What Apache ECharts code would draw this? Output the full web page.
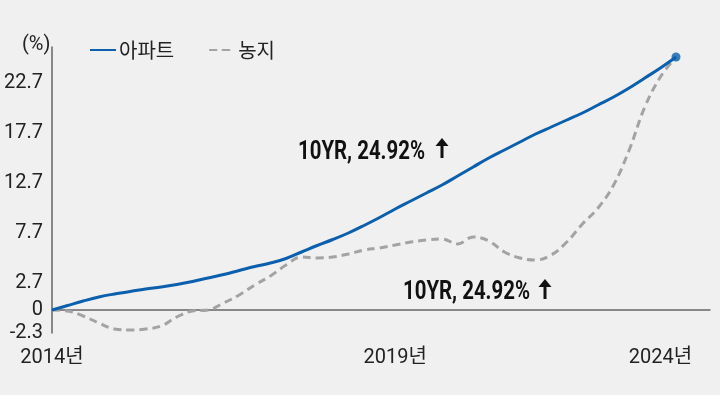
<!DOCTYPE html>
<html><head><meta charset="utf-8">
<script src="https://cdn.jsdelivr.net/npm/echarts@6/dist/echarts.min.js"></script>
<style>html,body{margin:0;padding:0;background:#f0f0f0}#c{width:720px;height:395px}</style>
</head><body><div id="c"></div>
<script>
// Quarterly points, 2014Q1 .. 2024Q1
const quarters = [];
for (let y = 2014; y <= 2024; y++) for (let q = 1; q <= 4; q++) quarters.push(y + 'Q' + q);
quarters.length = 41;

const apartment = [0, 0.45, 0.9, 1.3, 1.6, 1.85, 2.1, 2.3, 2.55, 2.85, 3.2, 3.55, 3.95, 4.35, 4.7, 5.15,
  5.8, 6.45, 7.05, 7.7, 8.45, 9.25, 10.1, 10.9, 11.7, 12.5, 13.4, 14.3, 15.2, 16.0, 16.8, 17.6,
  18.3, 19.0, 19.7, 20.5, 21.3, 22.2, 23.2, 24.2, 25.3];
const farmland = [0, -0.1, -0.6, -1.3, -1.9, -2.0, -1.9, -1.6, -0.7, -0.1, 0.0, 0.7, 1.5, 2.5, 3.4, 4.5,
  5.3, 5.2, 5.3, 5.6, 6.0, 6.2, 6.5, 6.8, 7.0, 7.1, 6.6, 7.3, 6.9, 5.8, 5.2, 5.0,
  5.5, 6.8, 8.6, 10.2, 12.5, 16.0, 20.3, 23.3, 25.3];

const yTicks = [-2.3, 0, 2.7, 7.7, 12.7, 17.7, 22.7];
const xTickIdx = [0, 22, 39];
const xTickLabels = ['2014년', '2019년', '2024년'];
const seriesNames = ['아파트', '농지'];
const annotationText = '10YR, 24.92%';

const FONT = "Roboto,'Noto Sans CJK KR',sans-serif";
const KFONT = "'Noto Sans CJK KR','Noto Sans',sans-serif";
const ANN_FONT = "bold 25px Roboto";

// measure annotation width to condense it to the reference width
const ctx = document.createElement('canvas').getContext('2d');
ctx.font = ANN_FONT;
const annScale = 127 / ctx.measureText(annotationText).width;

const chart = echarts.init(document.getElementById('c'), null, {renderer: 'canvas'});
const toXY = arr => arr.map((v, i) => [i, v]);
const lastIdx = apartment.length - 1;

function arrow(x, y) {
  return {
    type: 'group', x: x, y: y, children: [
      {type: 'rect', shape: {x: -1.5, y: 6, width: 3, height: 14}, style: {fill: '#111'}},
      {type: 'polygon', shape: {points: [[-6.5, 8], [0, 0], [6.5, 8]]}, style: {fill: '#111'}}
    ]
  };
}
function annotation(x, y) {
  return {type: 'text', x: x, y: y, scaleX: annScale, scaleY: 1,
    style: {text: annotationText, font: ANN_FONT, fill: '#111', textVerticalAlign: 'top'}};
}

chart.setOption({
  backgroundColor: '#f0f0f0',
  animation: false,
  title: {text: '(%)', left: 17, top: 30, textStyle: {fontFamily: FONT, fontSize: 20, fontWeight: 'normal', color: '#222'}},
  legend: {
    data: seriesNames, left: 84, top: 35, itemWidth: 26, itemHeight: 2, itemGap: 34,
    textStyle: {fontFamily: KFONT, fontSize: 20, color: '#222', padding: [0, 0, 0, -2]}
  },
  grid: {left: 52, right: 10, top: 47, bottom: 62, containLabel: false},
  xAxis: {
    type: 'value', min: 0, max: 40 * 658 / 624,
    axisLine: {show: true, lineStyle: {color: '#666', width: 1.5}},
    axisTick: {show: false}, splitLine: {show: false},
    axisLabel: {
      customValues: xTickIdx, margin: 15, fontFamily: FONT, fontSize: 20, color: '#222',
      formatter: v => xTickLabels[xTickIdx.indexOf(Math.round(v))] || ''
    }
  },
  yAxis: {
    type: 'value', min: -2.3, max: 26.3,
    axisLine: {show: true, lineStyle: {color: '#666', width: 1.5}},
    axisTick: {show: false}, splitLine: {show: false},
    axisLabel: {customValues: yTicks, margin: 9, fontFamily: FONT, fontSize: 20, color: '#222',
      formatter: v => String(v)}
  },
  series: [
    {name: seriesNames[0], type: 'line', data: toXY(apartment), smooth: 0.4, symbol: 'none',
      lineStyle: {color: '#0b5fad', width: 3}, itemStyle: {color: '#0b5fad'}, z: 3},
    {name: seriesNames[1], type: 'line', data: toXY(farmland), smooth: 0.4, symbol: 'none',
      lineStyle: {color: '#a3a3a3', width: 3, type: [8, 5]}, itemStyle: {color: '#a3a3a3'}, z: 2},
    {name: 'end', type: 'scatter', data: [[lastIdx, apartment[lastIdx]]], symbolSize: 9,
      itemStyle: {color: '#0b5fad'}, z: 4}
  ],
  graphic: [
    annotation(298, 140),
    arrow(442, 138),
    annotation(403, 280),
    arrow(545, 279)
  ]
});
</script></body></html>
